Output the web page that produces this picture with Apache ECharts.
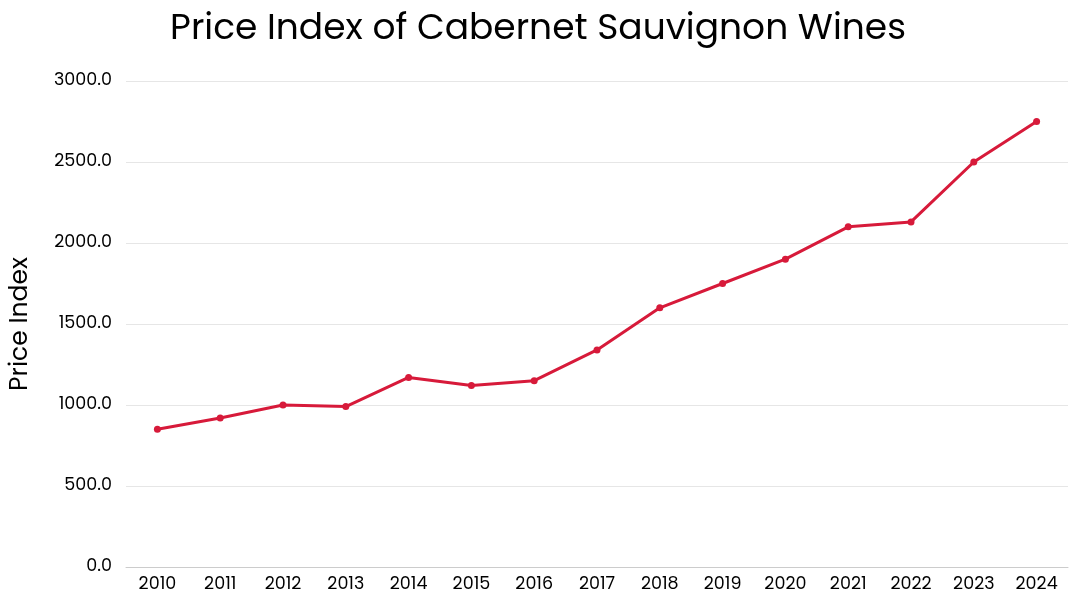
<!DOCTYPE html>
<html><head><meta charset="utf-8">
<script src="https://cdn.jsdelivr.net/npm/echarts@6/dist/echarts.min.js"></script>
<style>html,body{margin:0;padding:0;background:#fff}#c{width:1080px;height:607px}</style>
</head><body><div id="c"></div>
<script>
const categories = ['2010','2011','2012','2013','2014','2015','2016','2017','2018','2019','2020','2021','2022','2023','2024'];
const priceIndex = [850, 920, 1000, 990, 1170, 1120, 1150, 1340, 1600, 1750, 1900, 2100, 2130, 2500, 2750];
const titleText = 'Price Index of Cabernet Sauvignon Wines';
const yAxisName = 'Price Index';
const FONT = 'Poppins, Inter, "Open Sans", sans-serif';
const chart = echarts.init(document.getElementById('c'));
chart.setOption({
  backgroundColor: '#fff',
  animation: false,
  title: {
    text: titleText, left: 533, top: 7, textAlign: 'center',
    textStyle: { fontFamily: FONT, fontSize: 36, fontWeight: 'normal', color: '#000' }
  },
  grid: { left: 122, right: 12, top: 81, bottom: 40, containLabel: false },
  xAxis: {
    type: 'category', data: categories, boundaryGap: true,
    axisLine: { lineStyle: { color: '#ccc' } },
    axisTick: { show: false },
    axisLabel: { color: '#000', fontFamily: FONT, fontSize: 17.5, margin: 9 }
  },
  yAxis: {
    type: 'value', min: 0, max: 3000, interval: 500,
    name: yAxisName, nameLocation: 'middle', nameGap: 93,
    nameTextStyle: { fontFamily: FONT, fontSize: 25, color: '#000' },
    axisLine: { show: false }, axisTick: { show: false },
    axisLabel: { color: '#000', fontFamily: FONT, fontSize: 17.5, margin: 14,
      formatter: v => v.toFixed(1) },
    splitLine: { lineStyle: { color: '#e6e6e6', width: 1 } }
  },
  series: [{
    type: 'line', data: priceIndex,
    color: '#D71A3A',
    lineStyle: { width: 3, color: '#D71A3A' },
    symbol: 'circle', symbolSize: 7,
    itemStyle: { color: '#D71A3A' }
  }]
});
</script></body></html>
